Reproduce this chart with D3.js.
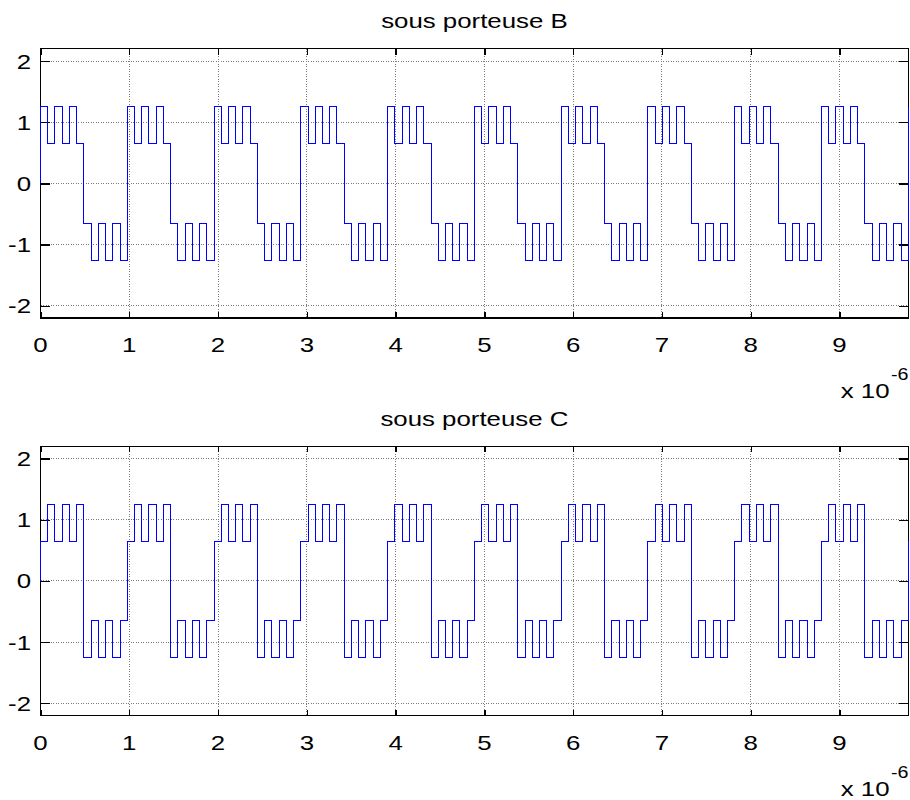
<!DOCTYPE html>
<html>
<head>
<meta charset="utf-8">
<script src="https://cdn.jsdelivr.net/npm/d3@7"></script>
<style>
  body { margin: 0; background: #fff; }
  svg { display: block; }
  text { font-family: "Liberation Sans", Arial, Helvetica, sans-serif; fill: #000; }
</style>
</head>
<body>
<svg id="chart" width="910" height="800"></svg>
<script>
// ---------------- data ----------------
const panelTitles = ["sous porteuse B", "sous porteuse C"];
const xTickValues = [0, 1, 2, 3, 4, 5, 6, 7, 8, 9];
const yTickValues = [-2, -1, 0, 1, 2];
const xDomain = [0, 9.7752];          // time in units of 1e-6 s
const yDomain = [-2.2, 2.2];
const chipDuration = 0.08146;         // one sub-chip, units of 1e-6 s
const exponentBase = "x 10";
const exponentPower = "-6";
const startValue = 0;                 // first sample at t = 0

// level of every sub-chip (10 periods x 12 chips) + first chip of the next period
const seriesB = [
  1.255, 0.652, 1.255, 0.652, 1.255, 0.652, -0.652, -1.255, -0.652, -1.255, -0.652, -1.255,
  1.255, 0.652, 1.255, 0.652, 1.255, 0.652, -0.652, -1.255, -0.652, -1.255, -0.652, -1.255,
  1.255, 0.652, 1.255, 0.652, 1.255, 0.652, -0.652, -1.255, -0.652, -1.255, -0.652, -1.255,
  1.255, 0.652, 1.255, 0.652, 1.255, 0.652, -0.652, -1.255, -0.652, -1.255, -0.652, -1.255,
  1.255, 0.652, 1.255, 0.652, 1.255, 0.652, -0.652, -1.255, -0.652, -1.255, -0.652, -1.255,
  1.255, 0.652, 1.255, 0.652, 1.255, 0.652, -0.652, -1.255, -0.652, -1.255, -0.652, -1.255,
  1.255, 0.652, 1.255, 0.652, 1.255, 0.652, -0.652, -1.255, -0.652, -1.255, -0.652, -1.255,
  1.255, 0.652, 1.255, 0.652, 1.255, 0.652, -0.652, -1.255, -0.652, -1.255, -0.652, -1.255,
  1.255, 0.652, 1.255, 0.652, 1.255, 0.652, -0.652, -1.255, -0.652, -1.255, -0.652, -1.255,
  1.255, 0.652, 1.255, 0.652, 1.255, 0.652, -0.652, -1.255, -0.652, -1.255, -0.652, -1.255,
  1.255
];
const seriesC = [
  0.652, 1.255, 0.652, 1.255, 0.652, 1.255, -1.255, -0.652, -1.255, -0.652, -1.255, -0.652,
  0.652, 1.255, 0.652, 1.255, 0.652, 1.255, -1.255, -0.652, -1.255, -0.652, -1.255, -0.652,
  0.652, 1.255, 0.652, 1.255, 0.652, 1.255, -1.255, -0.652, -1.255, -0.652, -1.255, -0.652,
  0.652, 1.255, 0.652, 1.255, 0.652, 1.255, -1.255, -0.652, -1.255, -0.652, -1.255, -0.652,
  0.652, 1.255, 0.652, 1.255, 0.652, 1.255, -1.255, -0.652, -1.255, -0.652, -1.255, -0.652,
  0.652, 1.255, 0.652, 1.255, 0.652, 1.255, -1.255, -0.652, -1.255, -0.652, -1.255, -0.652,
  0.652, 1.255, 0.652, 1.255, 0.652, 1.255, -1.255, -0.652, -1.255, -0.652, -1.255, -0.652,
  0.652, 1.255, 0.652, 1.255, 0.652, 1.255, -1.255, -0.652, -1.255, -0.652, -1.255, -0.652,
  0.652, 1.255, 0.652, 1.255, 0.652, 1.255, -1.255, -0.652, -1.255, -0.652, -1.255, -0.652,
  0.652, 1.255, 0.652, 1.255, 0.652, 1.255, -1.255, -0.652, -1.255, -0.652, -1.255, -0.652,
  0.652
];
const allSeries = [seriesB, seriesC];

// ---------------- layout ----------------
const left = 40.5, right = 908.3;
const panelTops = [48.8, 446.3];
const panelHeight = 269.2;
const textStretch = 1.23;
const fontSize = 21;

const svg = d3.select("#chart");

function stretchedText(g, x, y, str, anchor, size) {
  return g.append("text")
    .attr("transform", `translate(${x},${y}) scale(${textStretch},1)`)
    .attr("text-anchor", anchor)
    .style("font-size", size + "px")
    .text(str);
}

allSeries.forEach((vals, p) => {
  const top = panelTops[p];
  const bottom = top + panelHeight;
  const x = d3.scaleLinear().domain(xDomain).range([left, right]);
  const y = d3.scaleLinear().domain(yDomain).range([bottom, top]);
  const g = svg.append("g");

  // grid
  const grid = g.append("g")
    .attr("stroke", "#7a7a7a").attr("stroke-width", 1)
    .attr("stroke-dasharray", "1,1.5").attr("shape-rendering", "crispEdges");
  xTickValues.filter(v => v > 0).forEach(v => {
    grid.append("line").attr("x1", x(v)).attr("x2", x(v)).attr("y1", top).attr("y2", bottom);
  });
  yTickValues.forEach(v => {
    grid.append("line").attr("x1", left).attr("x2", right).attr("y1", y(v)).attr("y2", y(v));
  });

  // axes via d3 axes (ticks inward on all four sides)
  const tickStyle = sel => {
    sel.select(".domain").remove();
    sel.selectAll(".tick line").attr("stroke", "#000").attr("stroke-width", 1.3)
      .attr("shape-rendering", "crispEdges");
    sel.selectAll(".tick text").remove();
  };
  g.append("g").attr("transform", `translate(0,${bottom})`)
    .call(d3.axisBottom(x).tickValues(xTickValues).tickSizeInner(-6).tickSizeOuter(0)).call(tickStyle);
  g.append("g").attr("transform", `translate(0,${top})`)
    .call(d3.axisTop(x).tickValues(xTickValues).tickSizeInner(-6).tickSizeOuter(0)).call(tickStyle);
  g.append("g").attr("transform", `translate(${left},0)`)
    .call(d3.axisLeft(y).tickValues(yTickValues).tickSizeInner(-9).tickSizeOuter(0)).call(tickStyle);
  g.append("g").attr("transform", `translate(${right},0)`)
    .call(d3.axisRight(y).tickValues(yTickValues).tickSizeInner(-9).tickSizeOuter(0)).call(tickStyle);

  // box
  g.append("rect").attr("x", left).attr("y", top)
    .attr("width", right - left).attr("height", bottom - top)
    .attr("fill", "none").attr("stroke", "#000").attr("stroke-width", 1.3)
    .attr("shape-rendering", "crispEdges");

  // tick labels
  xTickValues.forEach(v => stretchedText(g, x(v), bottom + 34, String(v), "middle", fontSize));
  yTickValues.forEach(v => stretchedText(g, 31, y(v) + 7.5, String(v), "end", fontSize));

  // exponent label
  stretchedText(g, 889.5, top + 349.5, exponentBase, "end", fontSize);
  stretchedText(g, 891, top + 331.5, exponentPower, "start", 16);

  // title
  stretchedText(g, (left + right) / 2, top - 20.5, panelTitles[p], "middle", fontSize);

  // signal: step path
  const pts = [[0, startValue]].concat(vals.map((v, i) => [i * chipDuration, v]));
  const line = d3.line().x(d => x(d[0])).y(d => y(d[1])).curve(d3.curveStepAfter);
  g.append("path").datum(pts)
    .attr("d", line)
    .attr("fill", "none").attr("stroke", "#0000ff").attr("stroke-width", 1)
    .attr("shape-rendering", "crispEdges");
});
</script>
</body>
</html>
